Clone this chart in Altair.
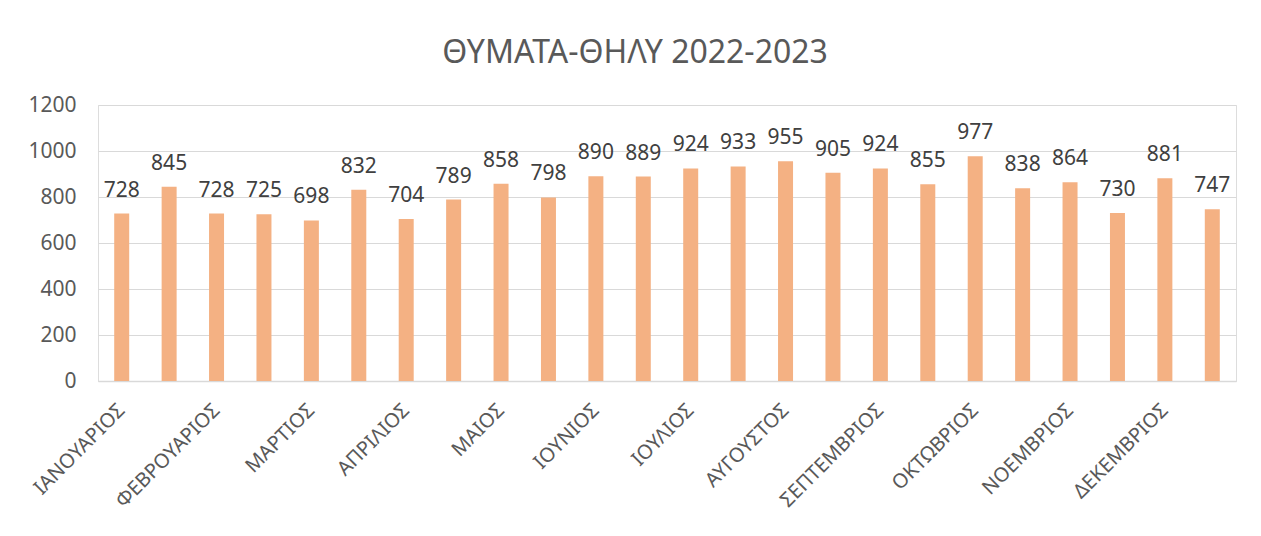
import altair as alt
import pandas as pd

months = ["ΙΑΝΟΥΑΡΙΟΣ", "ΦΕΒΡΟΥΑΡΙΟΣ", "ΜΑΡΤΙΟΣ", "ΑΠΡΙΛΙΟΣ", "ΜΑΙΟΣ", "ΙΟΥΝΙΟΣ",
          "ΙΟΥΛΙΟΣ", "ΑΥΓΟΥΣΤΟΣ", "ΣΕΠΤΕΜΒΡΙΟΣ", "ΟΚΤΩΒΡΙΟΣ", "ΝΟΕΜΒΡΙΟΣ", "ΔΕΚΕΜΒΡΙΟΣ"]
values = [728, 845, 728, 725, 698, 832, 704, 789, 858, 798, 890, 889,
          924, 933, 955, 905, 924, 855, 977, 838, 864, 730, 881, 747]
y_ticks = [0, 200, 400, 600, 800, 1000, 1200]

df = pd.DataFrame({"idx": list(range(len(values))), "value": values})

month_arr = "[" + ",".join("'" + m + "'" for m in months) + "]"
label_expr = f"datum.value % 2 == 0 ? {month_arr}[floor(datum.value / 2)] : ''"

FONT = "Noto Sans"
TXT = "#595959"

x = alt.X("idx:O", title=None,
          scale=alt.Scale(paddingInner=0.0, paddingOuter=0.0),
          axis=alt.Axis(labelExpr=label_expr, labelAngle=-45, labelAlign="right",
                        labelBaseline="middle", labelFontSize=20, labelColor=TXT,
                        labelFont=FONT, ticks=False, domainColor="#D9D9D9",
                        domainWidth=1.5, labelPadding=26, labelOverlap=False,
                        labelLimit=300))
y = alt.Y("value:Q", title=None,
          scale=alt.Scale(domain=[0, 1200]),
          axis=alt.Axis(values=y_ticks, format="d", labelFontSize=21, labelColor=TXT,
                        labelFont=FONT, ticks=False, domain=False, gridColor="#D9D9D9",
                        gridWidth=1.2, labelPadding=22))

base = alt.Chart(df)
bars = base.mark_bar(color="#F4B183", size=15).encode(x=x, y=y)
labels = base.mark_text(fontSize=21, font=FONT, color="#404040", baseline="alphabetic",
                        dy=-17).encode(x=x, y=y, text="value:Q")

chart = (bars + labels).properties(
    width=1138, height=276,
    title=alt.TitleParams("ΘΥΜΑΤΑ-ΘΗΛΥ 2022-2023", fontSize=32, font=FONT, color=TXT,
                          fontWeight="normal", anchor="middle", dx=-32, offset=24),
    autosize=alt.AutoSizeParams(type="none"),
    padding={"left": 90, "top": 97, "right": 9, "bottom": 147},
).configure_view(stroke=None).configure(background="white")

chart.save("out.html", embed_options={"renderer": "svg", "actions": False})
